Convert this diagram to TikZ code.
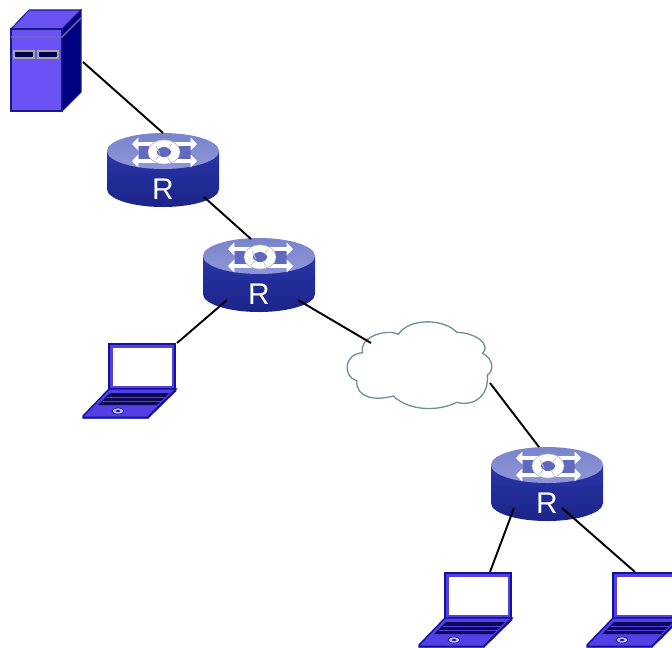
\documentclass[tikz,border=0pt]{standalone}
\usepackage{fontspec}
\setmainfont{Liberation Sans}
\usetikzlibrary{arrows.meta}
\usetikzlibrary{calc}
\definecolor{srvfront}{HTML}{6A52F5}
\definecolor{srvside}{HTML}{000080}
\definecolor{srvedge}{HTML}{1A1A80}
\definecolor{rtrtop}{HTML}{8F97D8}
\definecolor{rtrtopdark}{HTML}{7A84CC}
\definecolor{rtrband}{HTML}{6169BC}
\definecolor{rtrhi}{HTML}{2B35A8}
\definecolor{rtrlo}{HTML}{1A2488}
\definecolor{cloudedge}{HTML}{6F9099}
\definecolor{lapfill}{HTML}{5240E4}
\definecolor{lapedge}{HTML}{14109A}
\tikzset{
  link/.style={black,line width=1.1pt},
  rtrarrow/.style={white,line width=2.3pt,{Triangle[length=3.6pt,width=7.2pt]}-{Triangle[length=3.6pt,width=7.2pt]}},
  router/.pic={
    \path[top color=rtrhi,bottom color=rtrlo] (-56,0) -- (-56,38) arc[start angle=180,end angle=360,x radius=56,y radius=-18] -- (56,0) -- cycle;
    \path[top color=rtrtopdark,bottom color=rtrtop] (0,0) ellipse[x radius=56,y radius=18];
    \fill[rtrband] (-24,-5) rectangle (28,9);
    \draw[rtrarrow] (-31,-7) -- (34,-7);
    \draw[rtrarrow] (-31,10) -- (34,10);
    \filldraw[draw=gray!50,fill=white,line width=.4pt] (1,1) ellipse[x radius=16,y radius=12];
    \fill[rtrband] (1,1) ellipse[x radius=7,y radius=5];
    \draw[gray!50,line width=.4pt] (-7,-5) -- (-3,3) (9,-7) -- (5,-2) (4,5) -- (8,12) (-8,9) -- (-3,4);
    \node[white,font=\fontsize{17}{17}\selectfont,inner sep=0pt] (-lbl) at (0,38) {R};
  },
  server/.pic={
    \filldraw[draw=srvedge,fill=srvfront,line width=.6pt] (0,19) -- (18,0) -- (70,0) -- (51,19) -- cycle;
    \filldraw[draw=srvedge,fill=srvfront,line width=.6pt] (0,19) rectangle (51,101);
    \filldraw[draw=srvedge,fill=srvside,line width=.6pt] (51,19) -- (70,0) -- (70,82) -- (51,101) -- cycle;
    \draw[gray!60!srvfront,line width=.7pt] (0,27) -- (51,27) -- (70,8);
    \filldraw[draw=gray!70!white,fill=srvside!60!black,line width=.8pt] (3,41) rectangle (23,48);
    \filldraw[draw=gray!70!white,fill=srvside!60!black,line width=.8pt] (27,41) rectangle (47,48);
  },
  laptop/.pic={
    \filldraw[draw=lapedge,fill=lapfill,line width=1pt] (27,1) rectangle (93,46);
    \fill[white] (31,5) rectangle (90,43);
    \filldraw[draw=lapedge,fill=lapfill,line width=.8pt] (1,73) -- (27,46) -- (94,46) -- (66,74) -- (66,75) -- (1,75) -- cycle;
    \draw[lapedge,line width=1.1pt] (1,74.5) -- (66,74.5) -- (94,47);
    \fill[lapedge!55!black] (16,62) -- (28,50) -- (87,50) -- (75,62) -- cycle;
    \draw[lapfill,line width=.5pt] (25,54) -- (84,54) (21,58) -- (80,58);
    \filldraw[draw=lapedge,fill=white!65!lapfill,line width=.4pt] (36,68) ellipse[x radius=6,y radius=3];
    \fill[lapedge] (36,68) ellipse[x radius=2,y radius=1];
  }
}
\begin{document}
\begin{tikzpicture}[x=.02cm,y=-.02cm]
\useasboundingbox (0,0) rectangle (672,647);
\coordinate (srv) at (11,10);
\coordinate (rOne) at (163,151);
\coordinate (rTwo) at (259,256);
\coordinate (rThree) at (547,465);
\coordinate (lapOne) at (82,343);
\coordinate (lapTwo) at (418,572);
\coordinate (lapThree) at (586,572);
\pic at (srv) {server};
\pic (a) at (rOne) {router};
\pic (b) at (rTwo) {router};
\pic (c) at (rThree) {router};
\pic at (lapOne) {laptop};
\pic at (lapTwo) {laptop};
\begin{scope}
\clip (0,0) rectangle (672,647);
\pic at (lapThree) {laptop};
\end{scope}
% cloud
\filldraw[draw=cloudedge,fill=white,line width=.75pt] (362.7,352.7)
  .. controls (358,338) and (385,328) .. (398.3,334.3)
  .. controls (410,317) and (445,319) .. (456.7,332.3)
  .. controls (477,333) and (491,345) .. (482.7,353.3)
  .. controls (495,360) and (493,372) .. (487.3,375)
  .. controls (489,395) and (475,407) .. (456.7,402.3)
  .. controls (440,411) and (410,412) .. (393.3,396)
  .. controls (375,401) and (356,398) .. (356.7,380.7)
  .. controls (343,377) and (343,354) .. (362.7,352.7) -- cycle;
\coordinate (cloud) at (420,365);
% links
\draw[link] ($(srv)+(72,52)$) -- ($(rOne)+(0,-18)$);
\draw[link] ($(rOne)+(41,46)$) -- ($(rTwo)+(-8,-17)$);
\draw[link] ($(rTwo)+(-32,44)$) -- ($(lapOne)+(95,0)$);
\draw[link] ($(rTwo)+(39,44)$) -- ($(cloud)+(-49,-22)$);
\draw[link] ($(cloud)+(70,18)$) -- ($(rThree)+(-8,-18)$);
\draw[link] ($(rThree)+(-33,43)$) -- ($(lapTwo)+(72,0)$);
\draw[link] ($(rThree)+(15,43)$) -- ($(lapThree)+(49,0)$);
\end{tikzpicture}
\end{document}
